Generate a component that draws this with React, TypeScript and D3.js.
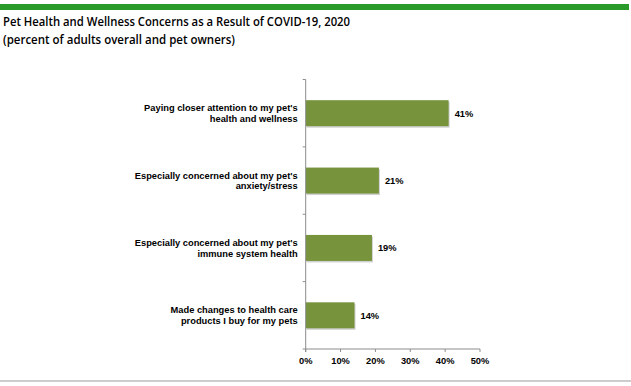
import React from 'react';
import * as d3 from 'd3';

const width = 631;
const height = 386;
const barColor = '#77933c';
const axisColor = '#8c8c8c';
const margin = { top: 79.5, right: 151, bottom: 37, left: 305.7 };

const categories = [
  "Paying closer attention to my pet's\nhealth and wellness",
  "Especially concerned about my pet's\nanxiety/stress",
  "Especially concerned about my pet's\nimmune system health",
  'Made changes to health care\nproducts I buy for my pets'
];
const values = [41, 21, 19, 14];
const ticks = [0, 10, 20, 30, 40, 50];
const titleLines = [
  'Pet Health and Wellness Concerns as a Result of COVID-19, 2020',
  '(percent of adults overall and pet owners)'
];

const labelFont = '"Liberation Sans", Arial, sans-serif';
const labelSize = 9.3;

export default function App() {
  const xScale = d3.scaleLinear().domain([0, 50]).range([margin.left, width - margin.right]);
  const yScale = d3
    .scaleBand<string>()
    .domain(categories)
    .range([margin.top, height - margin.bottom])
    .paddingInner(0.614)
    .paddingOuter(0.307);
  const step = yScale.step();
  const axisY = height - margin.bottom;

  // category boundaries for the little ticks on the left of the axis
  const bounds = d3.range(categories.length + 1).map(i => margin.top + i * step);

  return (
    <svg
      width={width}
      height={height}
      style={{ position: 'absolute', left: 0, top: 0, background: '#fff' }}
    >
      <rect x={0} y={4} width={629} height={6} fill="#2a9a2a" />
      {titleLines.map((t, i) => (
        <text
          key={i}
          x={3}
          y={26 + i * 18}
          fontFamily='"Open Sans", sans-serif'
          fontWeight={600}
          fontSize={12.5}
          fill="#000"
          textLength={i === 0 ? 347 : 232}
          lengthAdjust="spacingAndGlyphs"
        >
          {t}
        </text>
      ))}

      {/* bars */}
      {categories.map((c, i) => {
        const y = yScale(c) as number;
        const w = xScale(values[i]) - xScale(0);
        return (
          <g key={c}>
            <rect x={xScale(0) + 1} y={y + 1.5} width={w} height={yScale.bandwidth()} fill="#d0d0d0" />
            <rect x={xScale(0)} y={y} width={w} height={yScale.bandwidth()} fill={barColor} />
            <text
              x={xScale(values[i]) + 6}
              y={y + yScale.bandwidth() / 2 + 3.5}
              fontFamily={labelFont}
              fontWeight="bold"
              fontSize={labelSize}
              fill="#000"
            >
              {values[i]}%
            </text>
            {c.split('\n').map((line, j, arr) => (
              <text
                key={j}
                x={xScale(0) - 8}
                y={y + yScale.bandwidth() / 2 + 3.5 + (j - (arr.length - 1) / 2) * 10.8}
                textAnchor="end"
                fontFamily={labelFont}
                fontWeight="bold"
                fontSize={labelSize}
                fill="#000"
              >
                {line}
              </text>
            ))}
          </g>
        );
      })}

      {/* axes */}
      <line x1={xScale(0)} x2={xScale(0)} y1={margin.top} y2={axisY + 3} stroke={axisColor} />
      {bounds.map((b, i) => (
        <line key={i} x1={xScale(0) - 3} x2={xScale(0)} y1={b} y2={b} stroke={axisColor} />
      ))}
      <line x1={xScale(0)} x2={xScale(50)} y1={axisY} y2={axisY} stroke={axisColor} />
      {ticks.map(t => (
        <g key={t}>
          <line x1={xScale(t)} x2={xScale(t)} y1={axisY} y2={axisY + 3} stroke={axisColor} />
          <text
            x={xScale(t)}
            y={axisY + 14.5}
            textAnchor="middle"
            fontFamily={labelFont}
            fontWeight="bold"
            fontSize={labelSize}
            fill="#000"
          >
            {t}%
          </text>
        </g>
      ))}

      <line x1={0} x2={width} y1={381} y2={381} stroke="#bdbdbd" strokeWidth={1.5} />
    </svg>
  );
}
